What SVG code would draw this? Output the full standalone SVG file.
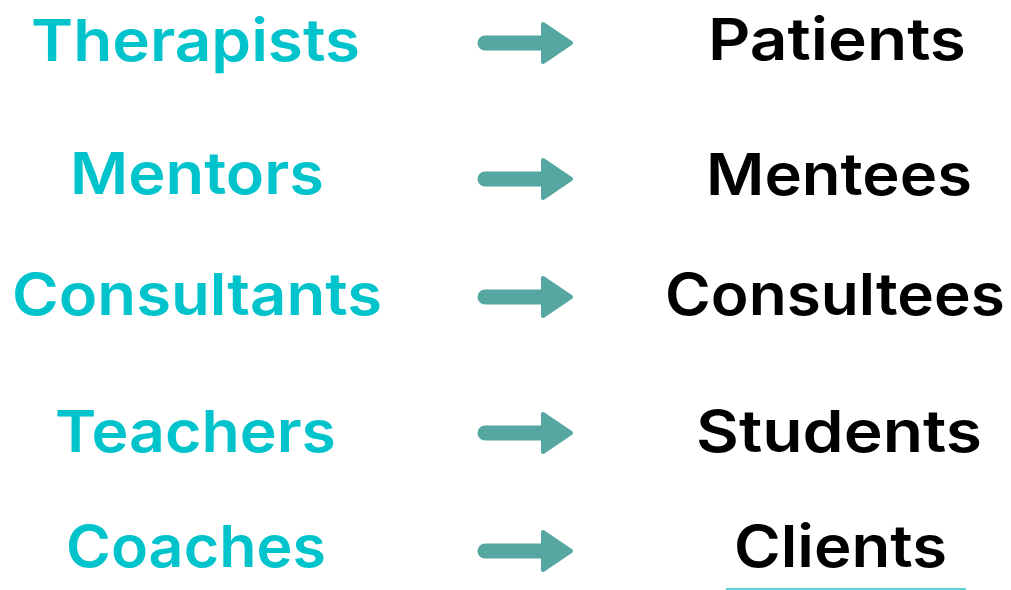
<svg xmlns="http://www.w3.org/2000/svg" width="1011" height="590" viewBox="0 0 1011 590">
  <defs>
    <style>
      .role { font-family: "Inter", "Liberation Sans", sans-serif; font-weight: 600; font-size: 58px; }
      .giver { fill: #00c3cc; }
      .receiver { fill: #000000; }
      .arrow { fill: #56a6a2; stroke: #56a6a2; stroke-linejoin: round; stroke-width: 4; }
      .shaft { stroke: #56a6a2; stroke-width: 15; stroke-linecap: round; }
    </style>
    <!-- one arrow, drawn with its shaft centred on y=0 -->
    <g id="arrowShape">
      <line class="shaft" x1="485" y1="0" x2="550" y2="0"/>
      <path class="arrow" d="M543,-19 L571,0 L543,19 Z"/>
    </g>
  </defs>
  <rect width="1011" height="590" fill="#ffffff"/>

  <g id="connectors">
    <use href="#arrowShape" y="43"/>
    <use href="#arrowShape" y="179"/>
    <use href="#arrowShape" y="297"/>
    <use href="#arrowShape" y="433"/>
    <use href="#arrowShape" y="551"/>
  </g>

  <g id="therapists"><text class="role giver" x="31" y="61" textLength="329" lengthAdjust="spacingAndGlyphs">Therapists</text></g>
  <g id="patients"><text class="role receiver" x="708" y="60" textLength="258" lengthAdjust="spacingAndGlyphs">Patients</text></g>

  <g id="mentors"><text class="role giver" x="70" y="194" textLength="254" lengthAdjust="spacingAndGlyphs">Mentors</text></g>
  <g id="mentees"><text class="role receiver" x="706" y="195" textLength="266" lengthAdjust="spacingAndGlyphs">Mentees</text></g>

  <g id="consultants"><text class="role giver" x="12" y="315" textLength="370" lengthAdjust="spacingAndGlyphs">Consultants</text></g>
  <g id="consultees"><text class="role receiver" x="665" y="315" textLength="340" lengthAdjust="spacingAndGlyphs">Consultees</text></g>

  <g id="teachers"><text class="role giver" x="55" y="452" textLength="281" lengthAdjust="spacingAndGlyphs">Teachers</text></g>
  <g id="students"><text class="role receiver" x="696" y="452" textLength="286" lengthAdjust="spacingAndGlyphs">Students</text></g>

  <g id="coaches"><text class="role giver" x="66" y="567" textLength="260" lengthAdjust="spacingAndGlyphs">Coaches</text></g>
  <g id="clients"><text class="role receiver" x="734" y="567" textLength="213" lengthAdjust="spacingAndGlyphs">Clients</text>
    <line x1="726" y1="589" x2="966" y2="589" stroke="#5fd3d8" stroke-width="2"/></g>
</svg>
